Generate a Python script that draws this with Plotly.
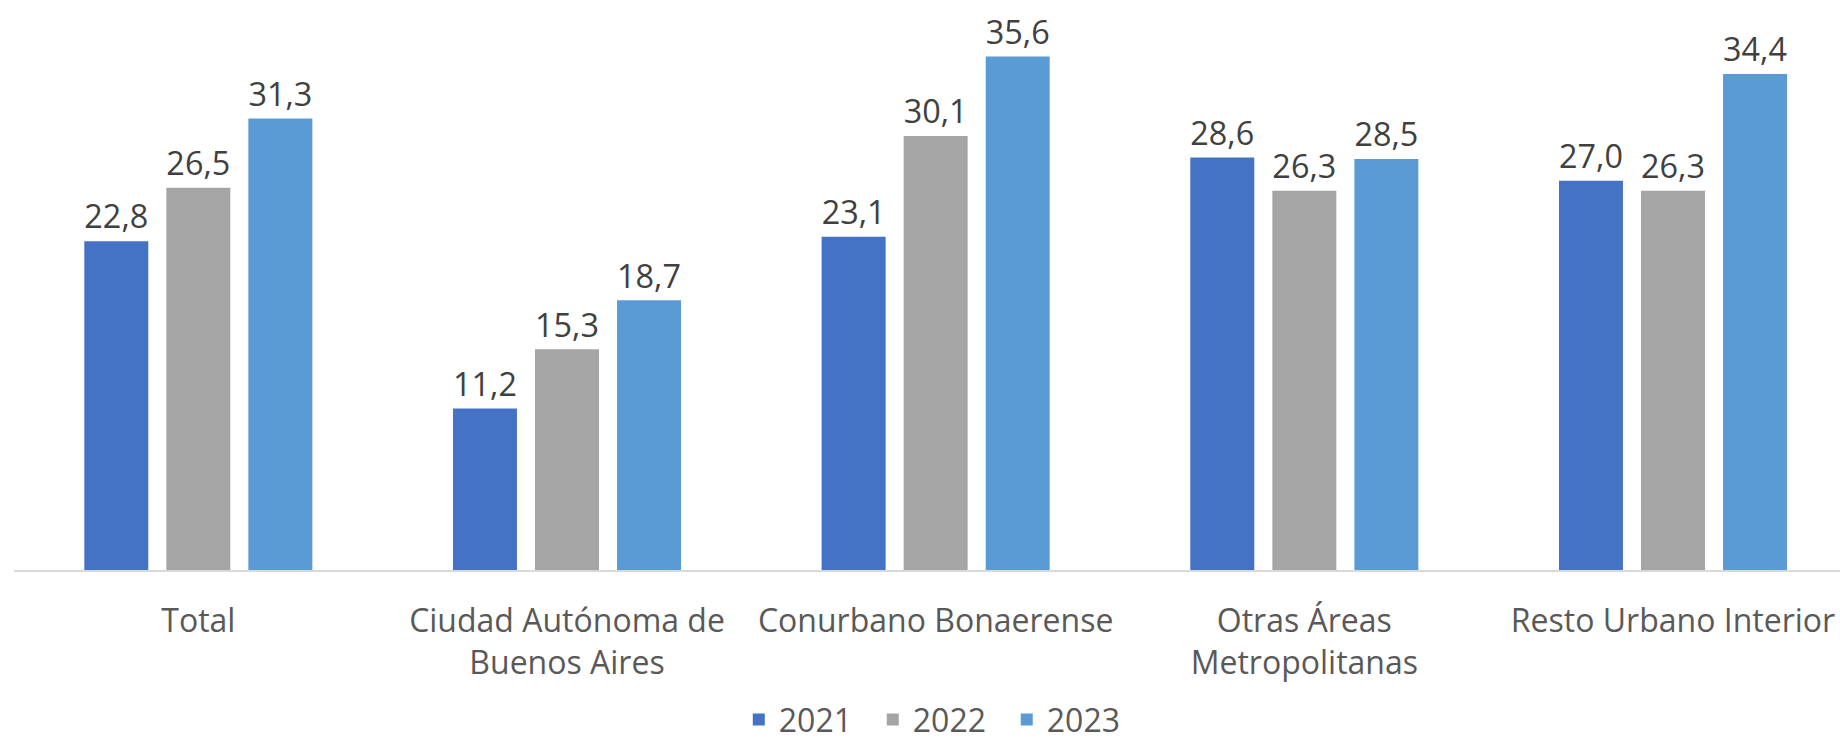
import plotly.graph_objects as go

categories = ["Total", "Ciudad Autónoma de<br>Buenos Aires", "Conurbano Bonaerense",
              "Otras Áreas<br>Metropolitanas", "Resto Urbano Interior"]
years = ["2021", "2022", "2023"]
v2021 = [22.8, 11.2, 23.1, 28.6, 27.0]
v2022 = [26.5, 15.3, 30.1, 26.3, 26.3]
v2023 = [31.3, 18.7, 35.6, 28.5, 34.4]
colors = ["#4472C4", "#A5A5A5", "#5B9BD5"]

FONT = "Open Sans"
fig = go.Figure()
for name, vals, col in zip(years, [v2021, v2022, v2023], colors):
    fig.add_trace(go.Bar(
        x=categories, y=vals, name=name, marker=dict(color=col, line=dict(width=0)),
        text=[f"{v:.1f}".replace(".", ",") for v in vals],
        textposition="outside", cliponaxis=False,
        textfont=dict(family=FONT, size=33, color="#404040"),
    ))

fig.update_layout(
    width=1840, height=746,
    margin=dict(l=14, r=0, t=22, b=176, autoexpand=False),
    paper_bgcolor="white", plot_bgcolor="white",
    barmode="group", bargap=0.3325, bargroupgap=0.22,
    font=dict(family=FONT, size=32, color="#595959"),
    showlegend=True,
    legend=dict(orientation="h", x=0.507, xanchor="center", y=-0.273, yanchor="middle",
                font=dict(family=FONT, size=32, color="#595959"), entrywidth=89,
                entrywidthmode="pixels"),
    uniformtext=dict(mode=False),
)
fig.update_xaxes(range=[-0.5, 4.453], showline=True, linecolor="#D9D9D9", linewidth=2,
                 ticks="", showgrid=False, tickfont=dict(family=FONT, size=32, color="#595959"),
                 ticklabelstandoff=22, tickangle=0, automargin=False)
fig.update_yaxes(range=[0, 38], visible=False, showgrid=False, zeroline=False, automargin=False)

fig.write_html("out.html", config={"displayModeBar": False},
               post_script="document.body.style.margin='0';document.body.style.overflow='hidden';")
